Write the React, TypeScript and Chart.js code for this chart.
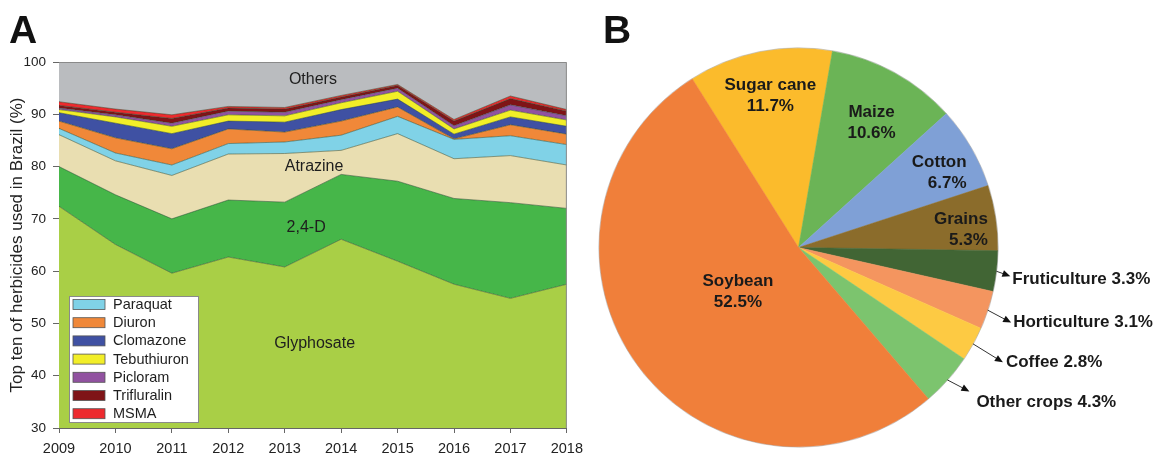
import React, { useEffect, useRef } from 'react';
import { Chart, registerables } from 'chart.js';

Chart.register(...registerables);

// ---------- Panel A data (share of top herbicides, %) ----------
const years = ['2009', '2010', '2011', '2012', '2013', '2014', '2015', '2016', '2017', '2018'];
const glyphosate = [72.4, 65.1, 59.6, 62.7, 60.8, 66.1, 61.9, 57.5, 54.8, 57.5];
const d24 = [7.6, 9.5, 10.4, 10.9, 12.4, 12.4, 15.3, 16.4, 18.3, 14.5];
const atrazine = [6.1, 6.5, 8.3, 8.8, 9.3, 4.6, 9.1, 7.6, 9.0, 8.3];
const paraquat = [1.2, 1.5, 2.0, 2.0, 2.2, 2.9, 3.3, 3.7, 3.8, 3.9];
const diuron = [1.4, 2.9, 3.1, 2.8, 1.9, 2.7, 1.8, 0.1, 2.1, 2.0];
const clomazone = [1.6, 2.8, 2.9, 1.5, 1.9, 2.2, 1.5, 0.9, 1.5, 1.5];
const tebuthiuron = [0.6, 1.2, 1.4, 1.2, 1.2, 1.3, 1.5, 1.0, 1.3, 1.2];
const picloram = [0.3, 0.4, 0.6, 0.7, 0.7, 0.6, 0.6, 0.6, 1.0, 0.8];
const trifluralin = [0.5, 0.5, 0.9, 0.6, 0.6, 0.5, 0.5, 0.9, 1.2, 0.9];
const msma = [0.7, 0.6, 0.7, 0.3, 0.3, 0.3, 0.2, 0.3, 0.5, 0.3];
const others = [7.6, 9.0, 10.1, 8.5, 8.7, 6.4, 4.3, 11.0, 6.5, 9.1];
const yTicksMin = 30;
const yTicksMax = 100;

// ---------- Panel B data (crop share, %) ----------
const crops = ['Sugar cane', 'Maize', 'Cotton', 'Grains', 'Fruticulture', 'Horticulture', 'Coffee', 'Other crops', 'Soybean'];
const cropShares = [11.7, 10.6, 6.7, 5.3, 3.3, 3.1, 2.8, 4.3, 52.5];

const FONT = '"Liberation Sans", Arial, Helvetica, sans-serif';

const seriesA = [
  { label: 'Glyphosate', data: glyphosate, color: '#a9cf46' },
  { label: '2,4-D', data: d24, color: '#46b649' },
  { label: 'Atrazine', data: atrazine, color: '#e9deb1' },
  { label: 'Paraquat', data: paraquat, color: '#80d2e7' },
  { label: 'Diuron', data: diuron, color: '#f08839' },
  { label: 'Clomazone', data: clomazone, color: '#3f51a3' },
  { label: 'Tebuthiuron', data: tebuthiuron, color: '#f2ee28' },
  { label: 'Picloram', data: picloram, color: '#9152a0' },
  { label: 'Trifluralin', data: trifluralin, color: '#7f1417' },
  { label: 'MSMA', data: msma, color: '#ed2a2e' },
  { label: 'Others', data: others, color: '#babcbf' },
];
const legendNames = ['Paraquat', 'Diuron', 'Clomazone', 'Tebuthiuron', 'Picloram', 'Trifluralin', 'MSMA'];

const cropColors = ['#fbbb2c', '#6bb456', '#7fa0d6', '#8b6c2b', '#416534', '#f4955f', '#fdca43', '#7cc46e', '#f07f3a'];

const panelAPlugin = {
  id: 'panelA',
  afterDatasetsDraw(chart: any) {
    const { ctx, chartArea: ca, scales } = chart;
    const xs = scales.x;
    const ys = scales.y;
    ctx.save();
    // frame
    ctx.strokeStyle = '#8a8a8a';
    ctx.lineWidth = 1;
    ctx.beginPath();
    ctx.moveTo(ca.left, ca.top + 0.5);
    ctx.lineTo(ca.right - 0.5, ca.top + 0.5);
    ctx.lineTo(ca.right - 0.5, ca.bottom);
    ctx.stroke();

    // area labels
    const labels = [
      { text: 'Others', x: 4.5, y: 96.7 },
      { text: 'Atrazine', x: 4.52, y: 80.0 },
      { text: '2,4-D', x: 4.38, y: 68.3 },
      { text: 'Glyphosate', x: 4.53, y: 46.2 },
    ];
    ctx.fillStyle = '#1e1e1e';
    ctx.font = `16px ${FONT}`;
    ctx.textAlign = 'center';
    ctx.textBaseline = 'middle';
    labels.forEach((l) => {
      ctx.fillText(l.text, xs.getPixelForValue(l.x), ys.getPixelForValue(l.y));
    });

    // legend box
    const bx = ca.left + 10;
    const bw = 130;
    const rowH = 18.2;
    const bh = 127;
    const by = ca.bottom - 5 - bh;
    ctx.fillStyle = '#ffffff';
    ctx.fillRect(bx, by, bw, bh);
    ctx.strokeStyle = '#8a8a8a';
    ctx.lineWidth = 1;
    ctx.strokeRect(bx + 0.5, by + 0.5, bw - 1, bh - 1);
    ctx.font = `14.5px ${FONT}`;
    ctx.textAlign = 'left';
    legendNames.forEach((name, i) => {
      const s = seriesA.find((d) => d.label === name)!;
      const cy = by + 8.5 + i * rowH;
      ctx.fillStyle = s.color;
      ctx.fillRect(bx + 4, cy - 5, 32, 10);
      ctx.strokeStyle = '#555';
      ctx.lineWidth = 0.8;
      ctx.strokeRect(bx + 4, cy - 5, 32, 10);
      ctx.fillStyle = '#1e1e1e';
      ctx.fillText(name, bx + 44, cy + 0.5);
    });
    ctx.restore();
  },
};

const panelBPlugin = {
  id: 'panelB',
  afterDatasetsDraw(chart: any) {
    const { ctx } = chart;
    const meta = chart.getDatasetMeta(0);
    const values = chart.data.datasets[0].data as number[];
    const names = chart.data.labels as string[];
    const inside: Record<number, { f: number; da: number; align: string }> = {
      0: { f: 0.775, da: 0.7, align: 'center' },
      1: { f: 0.724, da: 1.6, align: 'center' },
      2: { f: 0.8, da: 2.1, align: 'right' },
      3: { f: 0.82, da: 2.4, align: 'right' },
      8: { f: 0.378, da: 0, align: 'center' },
    };
    const outside: Record<number, { dx: number; dy: number; tx: number; ty: number }> = {
      4: { dx: 14, dy: 5, tx: 2, ty: 3 },
      5: { dx: 23.5, dy: 12.5, tx: 2, ty: 0 },
      6: { dx: 30, dy: 18.5, tx: 3, ty: 0 },
      7: { dx: 22, dy: 11.5, tx: 7, ty: 10.5 },
    };
    ctx.save();
    // faint outer outline of the pie
    const first = meta.data[0].getProps(['x', 'y', 'outerRadius'], true);
    ctx.strokeStyle = 'rgba(120,120,120,0.35)';
    ctx.lineWidth = 1;
    ctx.beginPath();
    ctx.arc(first.x, first.y, first.outerRadius + 0.5, 0, Math.PI * 2);
    ctx.stroke();

    ctx.fillStyle = '#1a1a1a';
    ctx.font = `bold 17px ${FONT}`;
    ctx.textBaseline = 'middle';
    meta.data.forEach((arc: any, i: number) => {
      const p = arc.getProps(['x', 'y', 'startAngle', 'endAngle', 'outerRadius'], true);
      const mid = (p.startAngle + p.endAngle) / 2;
      const pct = values[i].toFixed(1) + '%';
      if (inside[i]) {
        const c = inside[i];
        const a = mid + (c.da * Math.PI) / 180;
        const cx = p.x + Math.cos(a) * p.outerRadius * c.f;
        const cy = p.y + Math.sin(a) * p.outerRadius * c.f;
        const w1 = ctx.measureText(names[i]).width;
        const w2 = ctx.measureText(pct).width;
        const wmax = Math.max(w1, w2);
        ctx.fillStyle = '#1a1a1a';
        if (c.align === 'right') {
          ctx.textAlign = 'right';
          ctx.fillText(names[i], cx + wmax / 2, cy - 10.5);
          ctx.fillText(pct, cx + wmax / 2, cy + 10.5);
        } else {
          ctx.textAlign = 'center';
          ctx.fillText(names[i], cx, cy - 10.5);
          ctx.fillText(pct, cx, cy + 10.5);
        }
      } else if (outside[i]) {
        const o = outside[i];
        const sx = p.x + Math.cos(mid) * p.outerRadius;
        const sy = p.y + Math.sin(mid) * p.outerRadius;
        const ex = sx + o.dx;
        const ey = sy + o.dy;
        const ang = Math.atan2(o.dy, o.dx);
        const hl = 8;
        const hw = 3.5;
        ctx.strokeStyle = '#333';
        ctx.lineWidth = 1;
        ctx.beginPath();
        ctx.moveTo(sx, sy);
        ctx.lineTo(ex - Math.cos(ang) * hl * 0.8, ey - Math.sin(ang) * hl * 0.8);
        ctx.stroke();
        ctx.beginPath();
        ctx.moveTo(ex, ey);
        ctx.lineTo(ex - Math.cos(ang) * hl - Math.sin(ang) * hw, ey - Math.sin(ang) * hl + Math.cos(ang) * hw);
        ctx.lineTo(ex - Math.cos(ang) * hl + Math.sin(ang) * hw, ey - Math.sin(ang) * hl - Math.cos(ang) * hw);
        ctx.closePath();
        ctx.fillStyle = '#111';
        ctx.fill();
        ctx.fillStyle = '#1a1a1a';
        ctx.textAlign = 'left';
        ctx.fillText(`${names[i]} ${pct}`, ex + o.tx, ey + o.ty);
      }
    });
    ctx.restore();
  },
};

export default function App() {
  const refA = useRef<HTMLCanvasElement>(null);
  const refB = useRef<HTMLCanvasElement>(null);

  useEffect(() => {
    const chartA = new Chart(refA.current!, {
      type: 'line',
      data: {
        labels: years,
        datasets: seriesA.map((s, i) => ({
          label: s.label,
          data: s.data,
          backgroundColor: s.color,
          borderColor: s.label === 'Others' ? s.color : 'rgba(45,70,45,0.75)',
          borderWidth: 0.7,
          fill: i === 0 ? 'start' : '-1',
          pointRadius: 0,
          tension: 0,
        })),
      },
      options: {
        responsive: false,
        animation: false,
        layout: { padding: { left: 0, top: 62, right: 22, bottom: 0 } },
        plugins: { legend: { display: false }, tooltip: { enabled: false } },
        scales: {
          x: {
            offset: false,
            grid: { drawOnChartArea: false, drawTicks: true, tickLength: 5, color: '#666' },
            border: { color: '#666' },
            ticks: { font: { size: 14.5, family: FONT }, color: '#222', padding: 7, maxRotation: 0, autoSkip: false },
            afterFit: (s: any) => { s.height = 31; },
          },
          y: {
            stacked: true,
            min: yTicksMin,
            max: yTicksMax,
            grid: { drawOnChartArea: false, drawTicks: true, tickLength: 6, color: '#666' },
            border: { color: '#666' },
            ticks: { stepSize: 10, font: { size: 13.5, family: FONT }, color: '#222', padding: 7 },
            title: {
              display: true,
              text: 'Top ten of herbicides used in Brazil (%)',
              font: { size: 17, family: FONT },
              color: '#222',
              padding: { top: 7, bottom: 0 },
            },
            afterFit: (s: any) => { s.width = 59; },
          },
        },
      },
      plugins: [panelAPlugin],
    } as any);

    const chartB = new Chart(refB.current!, {
      type: 'pie',
      data: {
        labels: crops,
        datasets: [
          {
            data: cropShares,
            backgroundColor: cropColors,
            borderColor: cropColors,
            borderWidth: 0.5,
          },
        ],
      },
      options: {
        responsive: false,
        animation: false,
        rotation: -32.2,
        layout: { padding: { left: 9, top: 48, right: 158, bottom: 12 } },
        plugins: { legend: { display: false }, tooltip: { enabled: false } },
      },
      plugins: [panelBPlugin],
    } as any);

    return () => {
      chartA.destroy();
      chartB.destroy();
    };
  }, []);

  const panelLetter: React.CSSProperties = {
    position: 'absolute',
    top: 10,
    font: `bold 39px ${FONT}`,
    lineHeight: '39px',
    color: '#111',
  };

  return (
    <div style={{ position: 'fixed', left: 0, top: 0, width: 1156, height: 459, background: '#fff', overflow: 'hidden' }}>
      <canvas ref={refA} width={590} height={459} style={{ position: 'absolute', left: 0, top: 0, width: 590, height: 459 }} />
      <canvas ref={refB} width={566} height={459} style={{ position: 'absolute', left: 590, top: 0, width: 566, height: 459 }} />
      <div style={{ ...panelLetter, left: 9 }}>A</div>
      <div style={{ ...panelLetter, left: 603 }}>B</div>
    </div>
  );
}
